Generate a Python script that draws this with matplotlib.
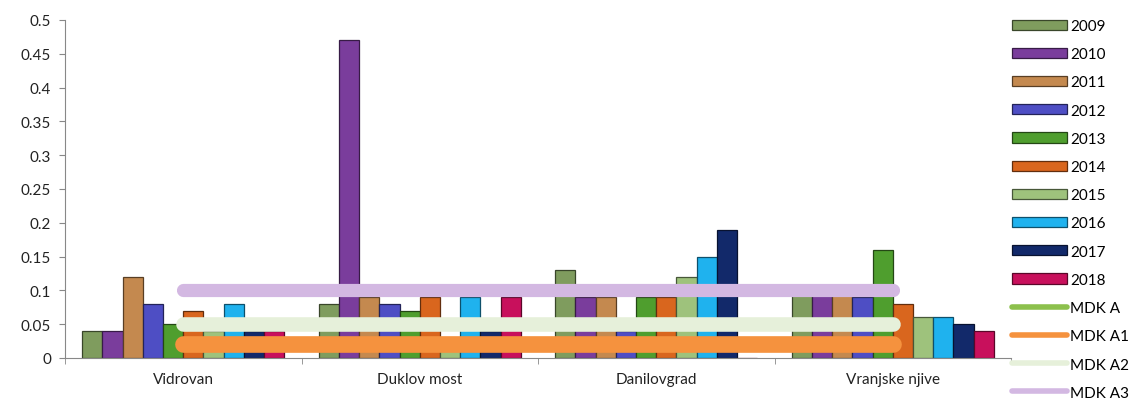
import numpy as np
import matplotlib
matplotlib.use("Agg")
import matplotlib.pyplot as plt
from matplotlib.patches import Patch
from matplotlib.lines import Line2D
from matplotlib import colors as mcolors

plt.rcParams['font.family'] = ['Lato', 'DejaVu Sans']

# measuring stations and yearly concentrations
stations = ["Vidrovan", "Duklov most", "Danilovgrad", "Vranjske njive"]
years = ["2009", "2010", "2011", "2012", "2013", "2014", "2015", "2016", "2017", "2018"]
values = {
    "2009": [0.04, 0.08, 0.13, 0.10],
    "2010": [0.04, 0.47, 0.09, 0.095],
    "2011": [0.12, 0.09, 0.09, 0.10],
    "2012": [0.08, 0.08, 0.04, 0.09],
    "2013": [0.05, 0.07, 0.09, 0.16],
    "2014": [0.07, 0.09, 0.09, 0.08],
    "2015": [0.04, 0.03, 0.12, 0.06],
    "2016": [0.08, 0.09, 0.15, 0.06],
    "2017": [0.04, 0.04, 0.19, 0.05],
    "2018": [0.04, 0.09, 0.0, 0.04],
}
year_colors = ["#7f9c5e", "#7a3d9c", "#c4894f", "#4e4ec4", "#4f9e2e",
               "#d9661e", "#9ec27c", "#1fb2ee", "#12296a", "#c8105c"]

# limit values (MDK)
limit_names = ["MDK A", "MDK A1", "MDK A2", "MDK A3"]
limit_values = [0.05, 0.02, 0.05, 0.1]
limit_colors = ["#8cc04c", "#f5923e", "#e6f0da", "#d3b8e2"]
limit_widths = [7, 12, 10.5, 9.5]

fig = plt.figure(figsize=(11.41, 4.06), dpi=100)
ax = fig.add_axes([65 / 1141, 47 / 406, 946 / 1141, 338 / 406])

x = np.arange(len(stations))
w = 0.0855
for j, yr in enumerate(years):
    c = year_colors[j]
    edge = tuple(v * 0.45 for v in mcolors.to_rgb(c))
    ax.bar(x + (j - 4.5) * w, values[yr], width=w, color=c,
           edgecolor=edge, linewidth=0.9, zorder=2)

for name, v, c, lw in zip(limit_names, limit_values, limit_colors, limit_widths):
    ax.plot(x, [v] * len(x), color=c, lw=lw, solid_capstyle='round', zorder=3)

ax.set_xlim(-0.5, len(stations) - 0.5)
ax.set_ylim(0, 0.5)
ax.set_yticks(np.arange(0, 0.51, 0.05))
ax.set_yticklabels(["0", "0.05", "0.1", "0.15", "0.2", "0.25", "0.3",
                    "0.35", "0.4", "0.45", "0.5"])
ax.set_xticks(x)
ax.set_xticklabels(stations)
ax.set_xticks(np.arange(-0.5, len(stations), 1.0), minor=True)
ax.tick_params(axis='x', which='major', length=0, labelsize=11,
               labelcolor="#222222", pad=10)
ax.tick_params(axis='x', which='minor', length=4, color="#888888")
ax.tick_params(axis='y', length=4, color="#888888", labelsize=11,
               labelcolor="#222222", pad=6)
for s in ["top", "right"]:
    ax.spines[s].set_visible(False)
for s in ["left", "bottom"]:
    ax.spines[s].set_color("#888888")

handles = []
for j, yr in enumerate(years):
    c = year_colors[j]
    edge = tuple(v * 0.45 for v in mcolors.to_rgb(c))
    handles.append(Patch(facecolor=c, edgecolor=edge, linewidth=0.9, label=yr))
for name, c in zip(limit_names, limit_colors):
    handles.append(Line2D([0], [0], color=c, lw=4, solid_capstyle='round', label=name))

fig.legend(handles=handles, loc='upper left',
           bbox_to_anchor=(1012 / 1141, 1 - 20 / 406), frameon=False,
           fontsize=11, handlelength=3.6, handleheight=0.65,
           handletextpad=0.2, labelspacing=0.93, borderpad=0, borderaxespad=0)

fig.savefig("out.png", dpi=100)
